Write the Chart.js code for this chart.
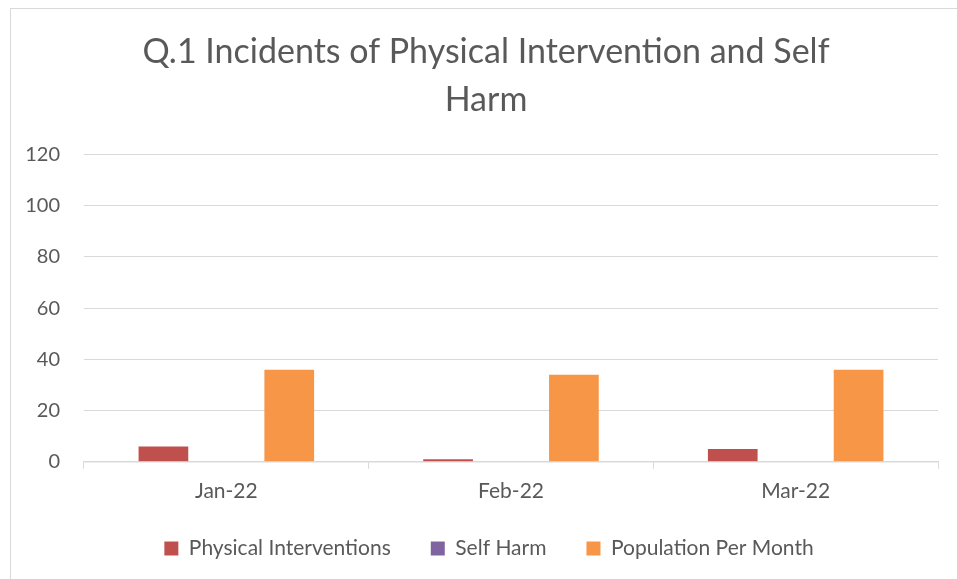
<!DOCTYPE html>
<html>
<head>
<meta charset="utf-8">
<script src="https://cdn.jsdelivr.net/npm/chart.js@4/dist/chart.umd.min.js"></script>
<style>
  html, body { margin: 0; padding: 0; background: #fff; }
  #wrap { position: relative; width: 957px; height: 579px; overflow: hidden; }
  #frame { position: absolute; left: 10px; top: 8px; width: 960px; height: 600px; border: 1px solid #d9d9d9; box-sizing: border-box; }
  canvas { position: absolute; left: 0; top: 0; }
</style>
</head>
<body>
<div id="wrap">
  <div id="frame"></div>
  <canvas id="c" width="957" height="579"></canvas>
</div>
<script>
const categories = ["Jan-22", "Feb-22", "Mar-22"];
const physicalInterventions = [6, 1, 5];
const selfHarm = [0, 0, 0];
const populationPerMonth = [36, 34, 36];
const yTicks = [0, 20, 40, 60, 80, 100, 120];
const titleLines = ["Q.1 Incidents of Physical Intervention and Self", "Harm"];

const textColor = "#595959";
const gridColor = "#d9d9d9";
const fontFamily = "Lato, 'Open Sans', sans-serif";

// shift title / legend centres to match the framed layout
const placeBoxes = {
  id: "placeBoxes",
  afterLayout(chart) {
    const t = chart.titleBlock;
    if (t) { t.left = 10; t.right = 962; }
    const l = chart.legend;
    if (l) {
      const h = l.bottom - l.top;
      l.left += 15; l.right += 15;
      l.top = 498; l.bottom = 498 + h;
    }
  }
};

new Chart(document.getElementById("c"), {
  type: "bar",
  data: {
    labels: categories,
    datasets: [
      { label: "Physical Interventions", data: physicalInterventions, backgroundColor: "#C0504D" },
      { label: "Self Harm", data: selfHarm, backgroundColor: "#8064A2" },
      { label: "Population Per Month", data: populationPerMonth, backgroundColor: "#F79646" }
    ]
  },
  plugins: [placeBoxes],
  options: {
    responsive: false,
    animation: false,
    devicePixelRatio: 1,
    layout: { padding: { left: 10, right: 19, top: 10, bottom: -6 } },
    datasets: { bar: { barPercentage: 0.79, categoryPercentage: 0.663 } },
    plugins: {
      title: {
        display: true,
        text: titleLines,
        color: textColor,
        font: { family: fontFamily, size: 34, weight: "normal", lineHeight: 1.42 },
        padding: { top: 18, bottom: 30 }
      },
      legend: {
        position: "bottom",
        labels: {
          color: textColor,
          font: { family: fontFamily, size: 21 },
          boxWidth: 14,
          boxHeight: 14,
          padding: 40
        }
      },
      tooltip: { enabled: false }
    },
    scales: {
      x: {
        grid: { drawOnChartArea: false, drawTicks: true, tickLength: 7, color: gridColor, offset: true },
        border: { display: true, color: gridColor, width: 1.5 },
        ticks: { color: textColor, font: { family: fontFamily, size: 21 }, padding: 10 }
      },
      y: {
        min: 0,
        max: 120,
        afterBuildTicks: (scale) => { scale.ticks = yTicks.map(v => ({ value: v })); },
        afterFit: (scale) => { scale.width = 74; },
        grid: { color: gridColor, drawTicks: false, lineWidth: 1 },
        border: { display: false },
        ticks: { color: textColor, font: { family: fontFamily, size: 20 }, padding: 24 }
      }
    }
  }
});
</script>
</body>
</html>
